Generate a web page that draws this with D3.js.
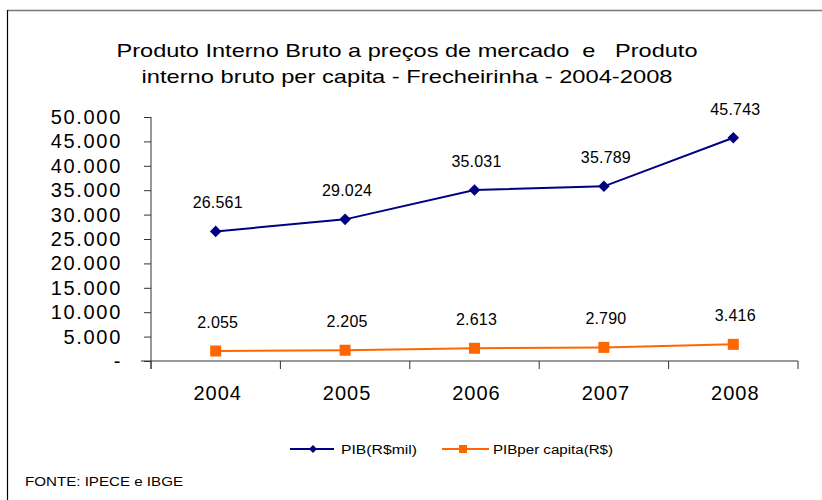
<!DOCTYPE html>
<html>
<head>
<meta charset="utf-8">
<script src="https://cdn.jsdelivr.net/npm/d3@7"></script>
<style>
body { margin: 0; background: #fff; }
text { font-family: "Liberation Sans", Arial, sans-serif; }
</style>
</head>
<body>
<div id="chart"></div>
<script>
// data
var years = ["2004", "2005", "2006", "2007", "2008"];
var pib = [26561, 29024, 35031, 35789, 45743];
var pibPerCapita = [2055, 2205, 2613, 2790, 3416];
var yTicks = [0, 5000, 10000, 15000, 20000, 25000, 30000, 35000, 40000, 45000, 50000];
var seriesNames = ["PIB(R$mil)", "PIBper capita(R$)"];
var titleLines = ["Produto Interno Bruto a preços de mercado  e   Produto",
                  "interno bruto per capita - Frecheirinha - 2004-2008"];

var width = 822, height = 500;

var svg = d3.select("#chart")
    .append("svg")
    .attr("width", width)
    .attr("height", height);

// frame
svg.append("line").attr("x1", 7).attr("x2", width).attr("y1", 10.5).attr("y2", 10.5)
    .attr("stroke", "#777").attr("stroke-width", 1.5);
svg.append("line").attr("x1", 7.5).attr("x2", 7.5).attr("y1", 10).attr("y2", height)
    .attr("stroke", "#000").attr("stroke-width", 1.2);

// title (the original text is stretched wide, so fit it to its width)
var titleWidths = [581, 531];
svg.selectAll(".title")
    .data(titleLines)
    .enter()
    .append("text")
    .attr("class", "title")
    .attr("x", 407)
    .attr("y", function(d, i) { return 57 + i * 26; })
    .attr("text-anchor", "middle")
    .attr("textLength", function(d, i) { return titleWidths[i]; })
    .attr("lengthAdjust", "spacingAndGlyphs")
    .style("white-space", "pre")
    .style("font-size", "19px")
    .text(function(d) { return d; });

var x = d3.scaleBand().domain(years).range([151, 798]);
var y = d3.scaleLinear().domain([0, 50000]).range([361, 117]);

var fmt = function(v) {
    return v === 0 ? "-" : d3.format(",")(v).replace(/,/g, ".");
};

// y axis
var yAxis = svg.append("g")
    .attr("transform", "translate(151,0)")
    .call(d3.axisLeft(y).tickValues(yTicks).tickSize(7).tickPadding(22).tickFormat(fmt));
yAxis.select(".domain").attr("stroke", "#333").attr("d", "M0," + y(50000) + "V" + (y(0) + 8));
yAxis.selectAll(".tick line").attr("stroke", "#333");
yAxis.selectAll(".tick text")
    .style("font-size", "20px")
    .style("letter-spacing", "1.7px")
    .attr("fill", "#000")
    .attr("font-family", null);

// x axis
var xAxis = svg.append("g")
    .attr("transform", "translate(0," + y(0) + ")");
xAxis.append("line")
    .attr("x1", 141).attr("x2", x.range()[1])
    .attr("stroke", "#333");
xAxis.selectAll(".xt")
    .data(years.concat(["end"]))
    .enter()
    .append("line")
    .attr("x1", function(d, i) { return i < years.length ? x(d) : x.range()[1]; })
    .attr("x2", function(d, i) { return i < years.length ? x(d) : x.range()[1]; })
    .attr("y1", 0).attr("y2", 8)
    .attr("stroke", "#333");
xAxis.selectAll(".xl")
    .data(years)
    .enter()
    .append("text")
    .attr("x", function(d) { return x(d) + x.bandwidth() / 2 + 2; })
    .attr("y", 39)
    .attr("text-anchor", "middle")
    .style("font-size", "20px")
    .style("letter-spacing", "1px")
    .text(function(d) { return d; });

var cx = function(d, i) { return x(years[i]) + x.bandwidth() / 2; };
var line = d3.line().x(cx).y(function(d) { return y(d); });

// PIB line
svg.append("path")
    .datum(pib)
    .attr("d", line)
    .attr("fill", "none")
    .attr("stroke", "#000080")
    .attr("stroke-width", 2);
svg.selectAll(".dia")
    .data(pib)
    .enter()
    .append("path")
    .attr("d", d3.symbol().type(d3.symbolDiamond2).size(85))
    .attr("transform", function(d, i) { return "translate(" + cx(d, i) + "," + y(d) + ")"; })
    .attr("fill", "#000080");

// per capita line
svg.append("path")
    .datum(pibPerCapita)
    .attr("d", line)
    .attr("fill", "none")
    .attr("stroke", "#FF6600")
    .attr("stroke-width", 2);
svg.selectAll(".sq")
    .data(pibPerCapita)
    .enter()
    .append("rect")
    .attr("x", function(d, i) { return cx(d, i) - 5.5; })
    .attr("y", function(d) { return y(d) - 5.5; })
    .attr("width", 11).attr("height", 11)
    .attr("fill", "#FF6600");

// data labels
[pib, pibPerCapita].forEach(function(s) {
    svg.selectAll(null)
        .data(s)
        .enter()
        .append("text")
        .attr("x", function(d, i) { return cx(d, i) + 2; })
        .attr("y", function(d) { return y(d) - 23; })
        .attr("text-anchor", "middle")
        .style("font-size", "16px")
        .style("letter-spacing", "0.2px")
        .text(fmt);
});

// legend
var lg = svg.append("g").attr("transform", "translate(0,449)");
lg.append("line").attr("x1", 290).attr("x2", 334).attr("stroke", "#000080").attr("stroke-width", 2);
lg.append("path").attr("d", d3.symbol().type(d3.symbolDiamond2).size(40))
    .attr("transform", "translate(313,0)").attr("fill", "#000080");
lg.append("text").attr("x", 341).attr("y", 4.5).style("font-size", "12px")
    .attr("textLength", 76).attr("lengthAdjust", "spacingAndGlyphs")
    .text(seriesNames[0]);
lg.append("line").attr("x1", 442).attr("x2", 489).attr("stroke", "#FF6600").attr("stroke-width", 2);
lg.append("rect").attr("x", 459).attr("y", -4).attr("width", 8).attr("height", 8).attr("fill", "#FF6600");
lg.append("text").attr("x", 493).attr("y", 4.5).style("font-size", "12px")
    .attr("textLength", 120).attr("lengthAdjust", "spacingAndGlyphs")
    .text(seriesNames[1]);

// source
svg.append("text")
    .attr("x", 25).attr("y", 486)
    .style("font-size", "12px")
    .attr("textLength", 158).attr("lengthAdjust", "spacingAndGlyphs")
    .text("FONTE: IPECE e IBGE");
</script>
</body>
</html>
